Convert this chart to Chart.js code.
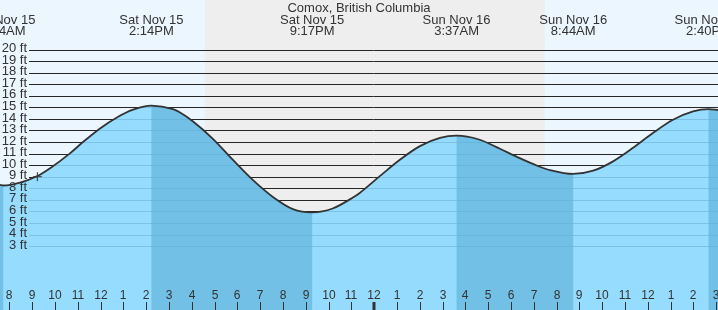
<!DOCTYPE html>
<html><head><meta charset="utf-8">
<script src="https://cdn.jsdelivr.net/npm/chart.js@4"></script>
<style>html,body{margin:0;padding:0;background:#fff;overflow:hidden}canvas{display:block}</style>
</head><body>
<canvas id="c" width="718" height="310"></canvas>
<script>
// ---- data (hours counted from midnight starting Sat Nov 15) ----
const chartTitle = "Comox, British Columbia";
const tideHours = [7.59, 7.733, 8.47, 9.21, 9.79, 10.66, 11.23, 11.98, 12.72, 13.43, 14.233,
  15.18, 15.49, 16.06, 16.93, 17.81, 18.69, 19.56, 20.44, 21.283,
  22.18, 23.07, 23.37, 24.25, 25.13, 26.01, 26.89, 27.617,
  28.60, 29.52, 30.30, 31.18, 31.76, 32.733,
  33.61, 34.48, 35.36, 36.24, 37.11, 37.99, 38.667, 39.09];
const tideFeet = [8.29, 8.24, 8.49, 9.04, 9.74, 11.02, 12.0, 13.18, 14.13, 14.80, 15.16,
  14.85, 14.55, 13.78, 12.28, 10.45, 8.70, 7.25, 6.2, 5.92,
  6.25, 7.2, 7.6, 9.05, 10.47, 11.65, 12.36, 12.55,
  12.22, 11.42, 10.68, 9.93, 9.55, 9.24,
  9.52, 10.33, 11.5, 12.8, 13.93, 14.65, 14.85, 14.77];
const extremeHours = [7.733, 14.233, 21.283, 27.617, 32.733, 38.667];
const extremeKinds = ["L", "H", "L", "H", "L", "H"];
const extremeDates = ["Sat Nov 15", "Sat Nov 15", "Sat Nov 15", "Sun Nov 16", "Sun Nov 16", "Sun Nov 16"];
const extremeTimes = ["7:44AM", "2:14PM", "9:17PM", "3:37AM", "8:44AM", "2:40PM"];
const nightStart = [16.58];
const nightEnd = [31.49];
const hourTicks = [8,9,10,11,12,13,14,15,16,17,18,19,20,21,22,23,24,25,26,27,28,29,30,31,32,33,34,35,36,37,38,39];
const hourLabels = ["8","9","10","11","12","1","2","3","4","5","6","7","8","9","10","11","12","1","2","3","4","5","6","7","8","9","10","11","12","1","2","3"];
const midnightHours = [24];
const feetTicks = [3,4,5,6,7,8,9,10,11,12,13,14,15,16,17,18,19,20];
const feetLabels = ["3 ft","4 ft","5 ft","6 ft","7 ft","8 ft","9 ft","10 ft","11 ft","12 ft","13 ft","14 ft","15 ft","16 ft","17 ft","18 ft","19 ft","20 ft"];
const nowHour = [9.23];
const nowFeet = [9.0];

const X_MIN = 7.592, X_MAX = 39.083;
const FONT = '"Liberation Sans", Arial, sans-serif';
const TEXT = '#333333';
const LIGHT = 'rgba(137,216,255,0.88)';
const DARK_OVER = 'rgba(91,173,213,0.6)';

// falling-tide intervals (high -> following low)
function fallingRanges() {
  const r = [];
  let start = extremeKinds[0] === 'L' ? X_MIN : null;
  extremeHours.forEach((h, i) => {
    if (extremeKinds[i] === 'H') start = h;
    else if (start !== null) { r.push([start, h]); start = null; }
  });
  if (start !== null) r.push([start, X_MAX]);
  return r;
}

const decor = {
  id: 'decor',
  beforeDraw(chart) {
    const {ctx, chartArea: a, scales: {x, y}} = chart;
    ctx.save();
    ctx.fillStyle = '#ebf6ff';
    ctx.fillRect(a.left, a.top, a.right - a.left, a.bottom - a.top);
    ctx.fillStyle = '#eeeeee';
    nightStart.forEach((s, i) => {
      const x0 = x.getPixelForValue(s), x1 = x.getPixelForValue(nightEnd[i]);
      ctx.fillRect(x0, a.top, x1 - x0, a.bottom - a.top);
    });
    ctx.strokeStyle = '#262626';
    ctx.lineWidth = 1;
    feetTicks.forEach(v => {
      const py = Math.round(y.getPixelForValue(v)) + 0.5;
      ctx.beginPath(); ctx.moveTo(29, py); ctx.lineTo(a.right, py); ctx.stroke();
    });
    ctx.restore();
  },
  beforeDatasetsDraw(chart) {
    // darker fill under the falling parts of the tide curve (drawn after the light fill)
    const {ctx, chartArea: a, scales: {x}} = chart;
    const line = chart.getDatasetMeta(0).dataset;
    const pts = line.points;
    ctx.save();
    ctx.beginPath();
    fallingRanges().forEach(([s, e]) => {
      const x0 = x.getPixelForValue(s), x1 = x.getPixelForValue(e);
      ctx.rect(x0, a.top, x1 - x0, a.bottom - a.top);
    });
    ctx.clip();
    ctx.beginPath();
    line.path(ctx);
    ctx.lineTo(pts[pts.length - 1].x, a.bottom);
    ctx.lineTo(pts[0].x, a.bottom);
    ctx.closePath();
    ctx.fillStyle = DARK_OVER;
    ctx.fill();
    ctx.restore();
  },
  afterDatasetsDraw(chart) {
    const {ctx, chartArea: a, scales: {x, y}} = chart;
    ctx.save();
    ctx.fillStyle = TEXT;
    ctx.font = '13px ' + FONT;
    ctx.textAlign = 'right';
    ctx.textBaseline = 'middle';
    feetTicks.forEach((v, i) => {
      ctx.fillText(feetLabels[i], 27, y.getPixelForValue(v) - 1);
    });
    ctx.font = '12px ' + FONT;
    ctx.textAlign = 'center';
    ctx.strokeStyle = TEXT;
    hourTicks.forEach((h, i) => {
      const px = Math.round(x.getPixelForValue(h));
      ctx.fillText(hourLabels[i], px, a.bottom - 14);
      const thick = midnightHours.includes(h);
      ctx.lineWidth = thick ? 3 : 1;
      ctx.beginPath();
      ctx.moveTo(px + (thick ? 0 : 0.5), a.bottom - 8);
      ctx.lineTo(px + (thick ? 0 : 0.5), a.bottom);
      ctx.stroke();
    });
    ctx.font = '13px ' + FONT;
    ctx.fillText(chartTitle, (a.left + a.right) / 2, 8);
    extremeHours.forEach((h, i) => {
      const px = x.getPixelForValue(h);
      ctx.fillText(extremeDates[i], px, 20);
      ctx.fillText(extremeTimes[i], px, 31);
    });
    ctx.restore();
  }
};

new Chart(document.getElementById('c'), {
  type: 'line',
  data: {
    datasets: [{
      data: tideHours.map((h, i) => ({x: h, y: tideFeet[i]})),
      borderColor: '#333333',
      borderWidth: 1.8,
      backgroundColor: LIGHT,
      fill: 'start',
      pointRadius: 0,
      cubicInterpolationMode: 'monotone'
    }, {
      data: nowHour.map((h, i) => ({x: h, y: nowFeet[i]})),
      showLine: false,
      pointStyle: 'cross',
      pointRadius: 4.5,
      borderColor: '#333333',
      borderWidth: 1,
      fill: false
    }]
  },
  options: {
    responsive: false,
    animation: false,
    events: [],
    layout: {padding: 0, autoPadding: false},
    plugins: {legend: {display: false}, tooltip: {enabled: false}, filler: {drawTime: 'beforeDatasetsDraw'}},
    scales: {
      x: {type: 'linear', display: false, min: X_MIN, max: X_MAX},
      y: {display: false, min: -2.53, max: 24.29}
    }
  },
  plugins: [decor]
});
</script>
</body></html>
